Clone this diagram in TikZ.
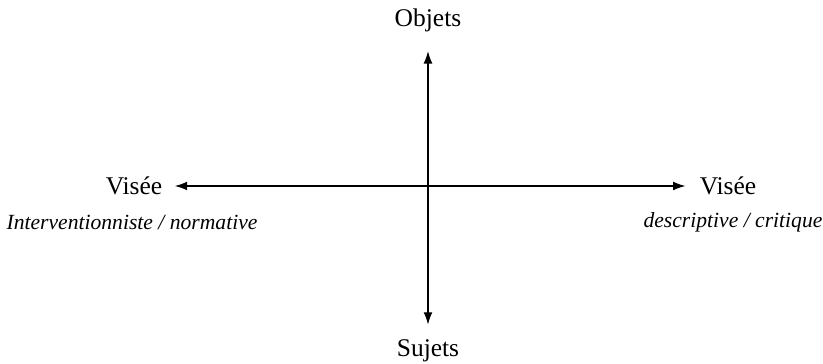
\documentclass[tikz,border=0pt]{standalone}
\usepackage{fontspec}
\setmainfont{Liberation Serif}
\usetikzlibrary{positioning, arrows.meta}

\begin{document}
\begin{tikzpicture}[x=0.02cm, y=-0.02cm, font=\fontsize{14.5}{17}\selectfont,
    lbl/.style={inner sep=0pt},
    sub/.style={inner sep=0pt, font=\fontsize{12.3}{15}\selectfont\itshape},
    axis/.style={{Latex[length=7pt,width=5pt]}-{Latex[length=7pt,width=5pt]}, line width=0.6pt}]
    \useasboundingbox (0,0) rectangle (823,364);
    % vertical axis labels
    \node[lbl] (objets) at (428,20) {Objets};
    \node[lbl] (sujets) at (428,351) {Sujets};
    % horizontal axis labels
    \node[lbl] (viseeL) at (134,186) {Visée};
    \node[sub] (subL) at (132,222) {Interventionniste / normative};
    \node[lbl] (viseeR) at (728,186) {Visée};
    \node[sub] (subR) at (733,222) {descriptive / critique};
    \draw[axis, shorten <=11pt, shorten >=8.5pt] (objets) -- (sujets);
    \draw[axis, shorten <=7pt, shorten >=8pt] (viseeL) -- (viseeR);
  \end{tikzpicture}
\end{document}
